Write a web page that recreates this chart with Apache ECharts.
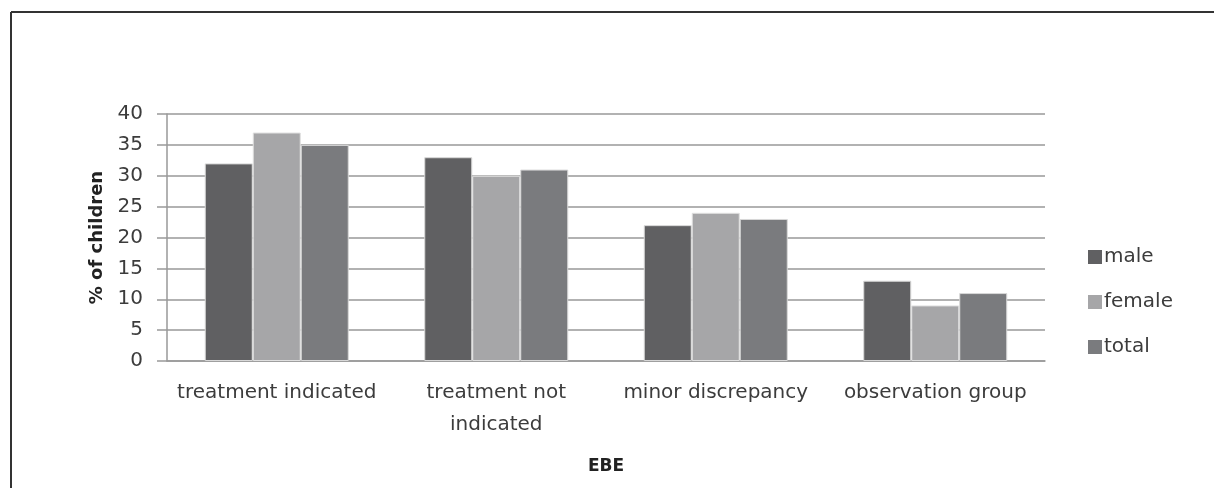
<!DOCTYPE html>
<html>
<head>
<meta charset="utf-8">
<script src="https://cdn.jsdelivr.net/npm/echarts@6/dist/echarts.min.js"></script>
<style>html,body{margin:0;padding:0;background:#fff;}#c{width:1214px;height:488px;}</style>
</head>
<body>
<div id="c"></div>
<script>
const categories = ["treatment indicated", "treatment not\nindicated", "minor discrepancy", "observation group"];
const male = [32, 33, 22, 13];
const female = [37, 30, 24, 9];
const total = [35, 31, 23, 11];
const yTicks = [0, 5, 10, 15, 20, 25, 30, 35, 40];

const FONT = "'DejaVu Sans', sans-serif";
const chart = echarts.init(document.getElementById('c'));
chart.setOption({
  animation: false,
  backgroundColor: '#fff',
  textStyle: { fontFamily: FONT },
  graphic: [
    { type: 'line', shape: { x1: 11, y1: 12, x2: 1214, y2: 12 }, style: { stroke: '#333', lineWidth: 2 } },
    { type: 'line', shape: { x1: 11, y1: 12, x2: 11, y2: 488 }, style: { stroke: '#333', lineWidth: 2 } }
  ],
  grid: { left: 167, right: 169, top: 114, bottom: 127 },
  legend: {
    orient: 'vertical', left: 1083, top: 242,
    itemWidth: 14, itemHeight: 14, itemGap: 25,
    icon: 'rect',
    itemStyle: { borderWidth: 0 },
    textStyle: { fontFamily: FONT, fontSize: 20, color: '#3c3c3c', padding: [0, 0, 0, -3] },
    data: ['male', 'female', 'total']
  },
  xAxis: {
    type: 'category', data: categories,
    name: 'EBE', nameLocation: 'middle', nameGap: 97,
    nameTextStyle: { fontFamily: FONT, fontSize: 17, fontWeight: 'bold', color: '#222' },
    axisLine: { lineStyle: { color: '#999', width: 1.5 } },
    axisTick: { show: false },
    axisLabel: { fontFamily: FONT, fontSize: 20, color: '#3c3c3c', margin: 16, lineHeight: 32, interval: 0 }
  },
  yAxis: {
    type: 'value', min: 0, max: 40, interval: 5,
    name: '% of children', nameLocation: 'middle', nameGap: 58, nameRotate: 90,
    nameTextStyle: { fontFamily: FONT, fontSize: 18, fontWeight: 'bold', color: '#222' },
    axisLine: { show: true, lineStyle: { color: '#999', width: 1.5 } },
    axisTick: { show: true, length: 10, lineStyle: { color: '#999', width: 1.5 } },
    splitLine: { lineStyle: { color: '#999', width: 1.5 } },
    axisLabel: { fontFamily: FONT, fontSize: 20, color: '#3c3c3c', margin: 24,
      formatter: v => yTicks.includes(v) ? String(v) : '' }
  },
  series: [
    { name: 'male', type: 'bar', data: male, barWidth: 48, barGap: '0%',
      itemStyle: { color: '#606062', borderColor: '#d8d8d8', borderWidth: 1 } },
    { name: 'female', type: 'bar', data: female, barWidth: 48, barGap: '0%',
      itemStyle: { color: '#a6a6a8', borderColor: '#e0e0e0', borderWidth: 1 } },
    { name: 'total', type: 'bar', data: total, barWidth: 48, barGap: '0%',
      itemStyle: { color: '#7a7b7e', borderColor: '#d8d8d8', borderWidth: 1 } }
  ]
});
</script>
</body>
</html>
